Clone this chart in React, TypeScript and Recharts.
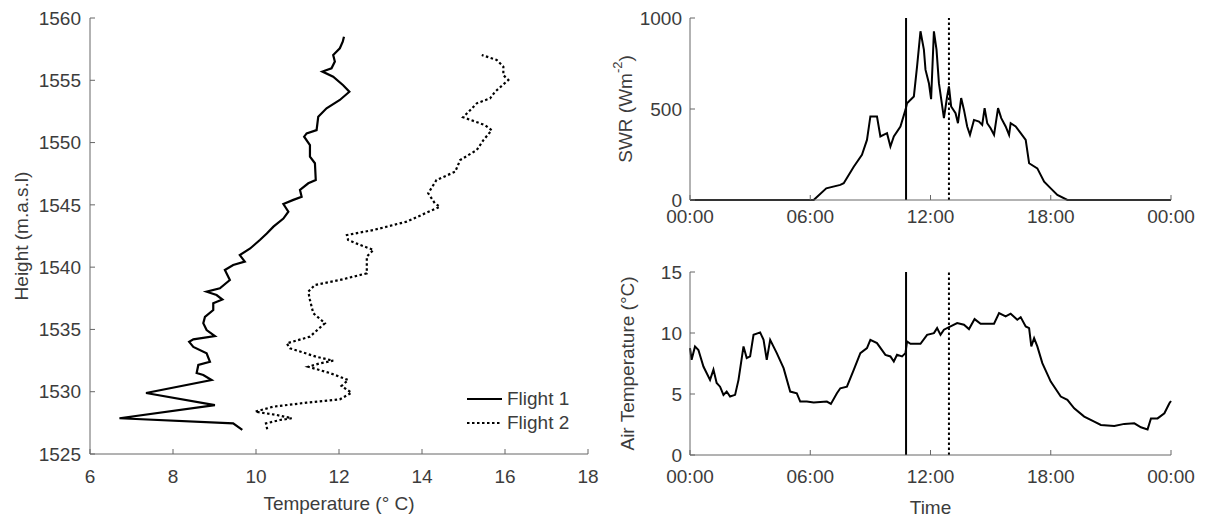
import { ScatterChart, Scatter, LineChart, Line, XAxis, YAxis, ReferenceLine, Legend } from "recharts";

const FONT = "'Liberation Sans', Arial, Helvetica, sans-serif";
const AXIS = "#666";
const TEXT = "#3c3c3c";
const FS = 19;

// Flight profiles (temperature °C, height m a.s.l.)
const f1Temp = [9.67, 9.45, 6.71, 9.01, 7.35, 8.93, 8.73, 8.57, 8.61, 8.89, 8.81, 8.49, 8.39, 8.49, 9.01, 8.81, 8.73, 8.77, 8.97, 8.97, 9.19, 9.05, 8.81, 9.13, 9.37, 9.25, 9.45, 9.73, 9.61, 9.86, 10.1, 10.26, 10.42, 10.66, 10.78, 10.66, 10.9, 11.1, 11.06, 11.26, 11.44, 11.42, 11.3, 11.3, 11.16, 11.22, 11.46, 11.5, 11.7, 12.02, 12.25, 12.1, 11.86, 11.6, 11.82, 11.9, 11.86, 12.02, 12.09, 12.12];
const f1Height = [1526.93, 1527.46, 1527.87, 1528.93, 1529.9, 1530.94, 1531.34, 1531.5, 1532.15, 1532.4, 1533.08, 1533.6, 1534.0, 1534.2, 1534.47, 1534.95, 1535.5, 1536.0, 1536.56, 1537.1, 1537.4, 1537.76, 1538.03, 1538.3, 1538.97, 1539.77, 1540.17, 1540.44, 1540.97, 1541.5, 1542.2, 1542.7, 1543.25, 1543.9, 1544.45, 1545.07, 1545.4, 1545.65, 1546.2, 1546.73, 1547.0, 1548.34, 1548.87, 1549.8, 1550.47, 1550.74, 1551.0, 1552.08, 1552.75, 1553.42, 1554.08, 1554.6, 1555.29, 1555.7, 1555.96, 1556.5, 1557.03, 1557.57, 1558.1, 1558.5];
const f2Temp = [10.27, 10.24, 10.58, 10.86, 10.5, 9.98, 10.42, 11.22, 12.02, 12.3, 12.06, 12.22, 11.78, 11.26, 11.54, 11.86, 11.46, 10.82, 10.74, 11.3, 11.66, 11.38, 11.3, 11.26, 11.42, 12.02, 12.67, 12.67, 12.83, 12.51, 12.22, 12.19, 12.83, 13.63, 14.43, 14.31, 14.15, 14.35, 14.8, 14.92, 15.32, 15.48, 15.68, 15.52, 14.99, 15.16, 15.32, 15.64, 15.76, 16.08, 15.96, 15.96, 15.8, 15.44];
const f2Height = [1526.98, 1527.46, 1527.73, 1527.87, 1528.13, 1528.4, 1528.8, 1529.12, 1529.39, 1529.92, 1530.46, 1530.94, 1531.5, 1532.0, 1532.28, 1532.49, 1532.8, 1533.48, 1533.88, 1534.42, 1535.5, 1536.3, 1537.36, 1538.03, 1538.57, 1538.97, 1539.5, 1540.84, 1541.38, 1541.78, 1542.18, 1542.58, 1542.98, 1543.65, 1544.85, 1545.12, 1545.93, 1547.0, 1547.66, 1548.6, 1549.4, 1550.2, 1551.0, 1551.4, 1552.03, 1552.6, 1553.15, 1553.55, 1554.08, 1555.02, 1555.42, 1556.1, 1556.63, 1557.03];
const flightNames = ["Flight 1", "Flight 2"];
const flightDash = ["", "2.5 2.5"];

const tempTicks = [6, 8, 10, 12, 14, 16, 18];
const heightTicks = [1525, 1530, 1535, 1540, 1545, 1550, 1555, 1560];

// Time series (hour of day)
const swrHour = [0, 6.17, 6.8, 7.5, 7.67, 8.17, 8.58, 8.83, 9.0, 9.33, 9.5, 9.83, 10.0, 10.17, 10.5, 10.75, 10.83, 11.17, 11.33, 11.5, 11.67, 11.75, 11.92, 12.03, 12.17, 12.3, 12.42, 12.67, 12.83, 12.92, 13.03, 13.25, 13.37, 13.53, 13.67, 13.83, 13.97, 14.17, 14.42, 14.58, 14.7, 14.83, 15.0, 15.17, 15.37, 15.53, 15.75, 15.92, 16.0, 16.25, 16.5, 16.75, 16.92, 17.33, 17.67, 18.0, 18.33, 18.83, 24];
const swrValue = [0, 0, 64, 83, 92, 183, 248, 330, 459, 459, 349, 367, 294, 349, 404, 495, 532, 569, 734, 927, 826, 716, 642, 554, 927, 826, 642, 450, 569, 624, 514, 477, 422, 560, 495, 404, 358, 440, 431, 413, 505, 422, 394, 358, 505, 450, 404, 358, 422, 404, 367, 330, 202, 174, 101, 64, 28, 0, 0];

const airHour = [0, 0.08, 0.25, 0.42, 0.67, 1.0, 1.17, 1.33, 1.5, 1.67, 1.83, 2.0, 2.25, 2.42, 2.67, 2.83, 3.0, 3.17, 3.5, 3.67, 3.83, 4.0, 4.33, 4.67, 5.0, 5.33, 5.5, 5.83, 6.17, 6.83, 7.03, 7.33, 7.5, 7.83, 8.17, 8.5, 8.83, 9.0, 9.33, 9.75, 10.0, 10.17, 10.33, 10.58, 10.75, 10.83, 11.0, 11.5, 11.83, 12.17, 12.33, 12.5, 12.67, 13.0, 13.33, 13.67, 13.92, 14.2, 14.5, 15.17, 15.42, 15.75, 16.0, 16.33, 16.5, 16.75, 16.92, 17.03, 17.17, 17.33, 17.58, 18.0, 18.5, 18.83, 19.17, 19.67, 20.17, 20.5, 21.17, 21.67, 22.17, 22.5, 22.83, 23.0, 23.33, 23.67, 23.92, 24.0];
const airValue = [8.76, 7.8, 8.9, 8.6, 7.25, 6.16, 7.0, 5.9, 5.6, 4.93, 5.2, 4.79, 4.93, 6.16, 8.9, 7.94, 8.08, 9.85, 10.05, 9.44, 7.8, 9.44, 8.35, 7.12, 5.2, 5.06, 4.38, 4.38, 4.3, 4.38, 4.19, 5.06, 5.47, 5.6, 6.98, 8.35, 8.76, 9.44, 9.17, 8.21, 8.08, 7.66, 8.21, 8.08, 8.35, 9.31, 9.12, 9.12, 9.85, 9.99, 10.4, 9.85, 10.27, 10.54, 10.81, 10.68, 10.32, 11.14, 10.76, 10.76, 11.63, 11.36, 11.58, 11.09, 11.3, 10.54, 10.4, 8.9, 9.58, 8.9, 7.53, 6.02, 4.79, 4.52, 3.83, 3.15, 2.74, 2.46, 2.38, 2.55, 2.6, 2.27, 2.1, 3.0, 3.0, 3.42, 4.24, 4.43];

const timeTicks = [0, 6, 12, 18, 24];
const flightTimes = [10.78, 12.92];
const flightTimeDash = ["", "2.5 2.5"];

const flight1 = f1Temp.map((t, i) => ({ t, h: f1Height[i] }));
const flight2 = f2Temp.map((t, i) => ({ t, h: f2Height[i] }));
const swrData = swrHour.map((t, i) => ({ t, v: swrValue[i] }));
const airData = airHour.map((t, i) => ({ t, v: airValue[i] }));

const fmtTime = (h: number) => `${String(h % 24).padStart(2, "0")}:00`;
const tickStyle = { fill: TEXT, fontSize: FS, fontFamily: FONT };
const lineStyle = { stroke: AXIS, strokeWidth: 1 };

const xTitle = (content: any, dy: number) => (props: any) => {
  const { x, y, width } = props.viewBox;
  return (
    <text x={x + width / 2} y={y + dy} textAnchor="middle" dominantBaseline="central" fill={TEXT} fontSize={FS} fontFamily={FONT}>
      {content}
    </text>
  );
};

const yTitle = (content: any, dx: number) => (props: any) => {
  const { x, y, height } = props.viewBox;
  const cx = x + dx;
  const cy = y + height / 2;
  return (
    <text x={cx} y={cy} transform={`rotate(-90 ${cx} ${cy})`} textAnchor="middle" dominantBaseline="central" fill={TEXT} fontSize={FS} fontFamily={FONT}>
      {content}
    </text>
  );
};

const FlightLegend = ({ payload }: any) => (
  <div style={{ fontFamily: FONT, fontSize: FS, color: TEXT }}>
    {(payload || []).map((p: any, i: number) => (
      <div key={p.value} style={{ display: "flex", alignItems: "center", height: 24 }}>
        <svg width={38} height={6} style={{ marginRight: 3 }}>
          <line x1={1} x2={36} y1={3} y2={3} stroke="#000" strokeWidth={2.2} strokeDasharray={flightDash[i] || undefined} />
        </svg>
        <span>{p.value}</span>
      </div>
    ))}
  </div>
);

const ProfileChart = () => (
  <ScatterChart width={620} height={517} margin={{ top: 18, right: 32, bottom: 0, left: 0 }}>
    <XAxis type="number" dataKey="t" domain={[6, 18]} ticks={tempTicks} height={63} tickSize={-5} tickMargin={21}
      tick={tickStyle} axisLine={lineStyle} tickLine={lineStyle}
      label={xTitle("Temperature (° C)", 49)} />
    <XAxis xAxisId="top" orientation="top" type="number" dataKey="t" domain={[6, 18]} ticks={tempTicks} height={0}
      tickSize={-5} tick={false} axisLine={lineStyle} tickLine={lineStyle} />
    <YAxis type="number" dataKey="h" domain={[1525, 1560]} ticks={heightTicks} width={90} tickSize={-5} tickMargin={14}
      tick={tickStyle} axisLine={lineStyle} tickLine={lineStyle}
      label={yTitle("Height (m.a.s.l)", 21)} />
    <YAxis yAxisId="right" orientation="right" type="number" dataKey="h" domain={[1525, 1560]} ticks={heightTicks} width={0}
      tickSize={-5} tick={false} axisLine={lineStyle} tickLine={lineStyle} />
    <Scatter name={flightNames[0]} data={flight1} fill="#000" line={{ strokeWidth: 2.2 }} shape={() => <g />} isAnimationActive={false} />
    <Scatter name={flightNames[1]} data={flight2} fill="#000" line={{ strokeWidth: 2.2, strokeDasharray: flightDash[1] }} shape={() => <g />} isAnimationActive={false} />
    <Legend layout="vertical" align="center" verticalAlign="middle" content={FlightLegend}
      wrapperStyle={{ left: 466, top: 387, width: 140 }} />
  </ScatterChart>
);

const TimeChart = ({ data, yDomain, yTicks, height, top, axisHeight, tickMargin, yLabel, yLabelDx, xLabel }: any) => (
  <LineChart width={620} height={height} data={data} margin={{ top, right: 49, bottom: 0, left: 0 }}>
    <XAxis type="number" dataKey="t" domain={[0, 24]} ticks={timeTicks} tickFormatter={fmtTime} height={axisHeight}
      tickSize={-5} tickMargin={tickMargin} tick={tickStyle} axisLine={lineStyle} tickLine={lineStyle}
      label={xLabel ? xTitle(xLabel, 52) : undefined} />
    <XAxis xAxisId="top" orientation="top" type="number" dataKey="t" domain={[0, 24]} ticks={timeTicks} height={0}
      tickSize={-5} tick={false} axisLine={lineStyle} tickLine={lineStyle} />
    <YAxis type="number" domain={yDomain} ticks={yTicks} width={90} tickSize={-5} tickMargin={13}
      tick={tickStyle} axisLine={lineStyle} tickLine={lineStyle} label={yTitle(yLabel, yLabelDx)} />
    <YAxis yAxisId="right" orientation="right" type="number" domain={yDomain} ticks={yTicks} width={0}
      tickSize={-5} tick={false} axisLine={lineStyle} tickLine={lineStyle} />
    {flightTimes.map((ft, i) => (
      <ReferenceLine key={ft} x={ft} stroke="#000" strokeWidth={2} strokeDasharray={flightTimeDash[i] || undefined} />
    ))}
    <Line type="linear" dataKey="v" stroke="#000" strokeWidth={2} dot={false} isAnimationActive={false} />
  </LineChart>
);

export default function App() {
  return (
    <div style={{ position: "absolute", left: 0, top: 0, width: 1220, height: 517, background: "#fff", overflow: "hidden" }}>
      <div style={{ position: "absolute", left: 0, top: 0 }}>
        <ProfileChart />
      </div>
      <div style={{ position: "absolute", left: 600, top: 0 }}>
        <TimeChart data={swrData} yDomain={[0, 1000]} yTicks={[0, 500, 1000]} height={240} top={18} axisHeight={40} tickMargin={15}
          yLabel={<>SWR (Wm<tspan dy={-8} fontSize={13}>-2</tspan><tspan dy={8}>)</tspan></>} yLabelDx={25} />
      </div>
      <div style={{ position: "absolute", left: 600, top: 240 }}>
        <TimeChart data={airData} yDomain={[0, 15]} yTicks={[0, 5, 10, 15]} height={277} top={32} axisHeight={62} tickMargin={20}
          yLabel="Air Temperature (°C)" yLabelDx={27} xLabel="Time" />
      </div>
    </div>
  );
}
